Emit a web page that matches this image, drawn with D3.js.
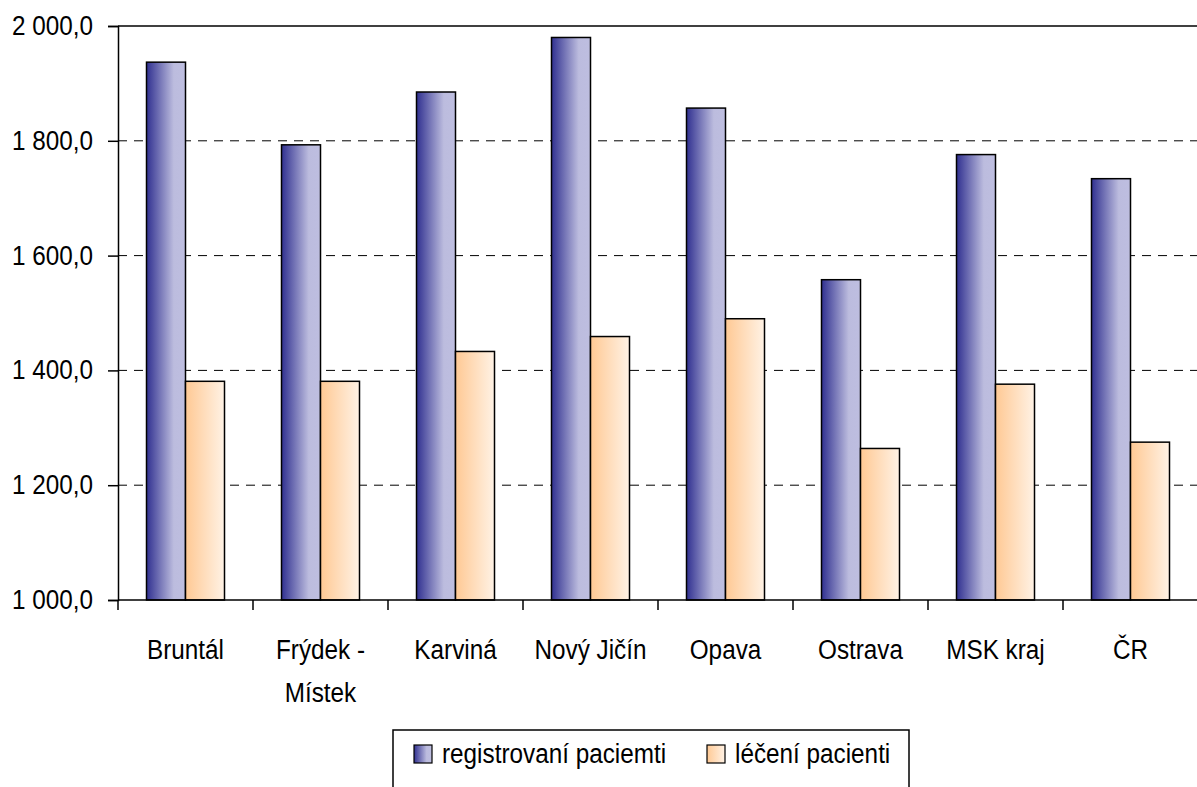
<!DOCTYPE html>
<html>
<head>
<meta charset="utf-8">
<script src="https://cdn.jsdelivr.net/npm/d3@7"></script>
<style>
  body { margin: 0; background: #fff; }
  svg { display: block; }
  text { font-family: "Liberation Sans", Arial, sans-serif; fill: #000; }
</style>
</head>
<body>
<div class="chart"></div>
<script>
(() => {
  const categories = ["Bruntál", "Frýdek - Místek", "Karviná", "Nový Jičín", "Opava", "Ostrava", "MSK kraj", "ČR"];
  const registered = [1937, 1793, 1885, 1980, 1857, 1558, 1776, 1734];
  const treated = [1381, 1381, 1433, 1459, 1490, 1264, 1376, 1275];
  const seriesNames = ["registrovaní paciemti", "léčení pacienti"];
  const yTicks = [1000, 1200, 1400, 1600, 1800, 2000];

  const width = 1197, height = 787;
  const left = 118, top = 26, bottom = 600, step = 135;
  const right = left + step * categories.length;
  const narrow = 0.9; // squeeze text to look like a narrow face
  const fontSize = "27px";

  const svg = d3.select(".chart").append("svg")
    .attr("width", width)
    .attr("height", height);

  const defs = svg.append("defs");
  const blue = defs.append("linearGradient").attr("id", "gBlue");
  blue.append("stop").attr("offset", "0%").attr("stop-color", "#303090");
  blue.append("stop").attr("offset", "70%").attr("stop-color", "#bcbcde");
  blue.append("stop").attr("offset", "100%").attr("stop-color", "#bebee0");
  const orange = defs.append("linearGradient").attr("id", "gOrange");
  orange.append("stop").attr("offset", "0%").attr("stop-color", "#ffc994");
  orange.append("stop").attr("offset", "100%").attr("stop-color", "#fff2e5");
  const fills = ["url(#gBlue)", "url(#gOrange)"];

  const x0 = d3.scaleBand().domain(categories).range([left, right]);
  const x1 = d3.scaleBand().domain(seriesNames).range([28.5, 28.5 + 78]);
  const y = d3.scaleLinear().domain([1000, 2000]).range([bottom, top]);

  const fmt = (v) => d3.format(",.1f")(v).replace(",", " ").replace(".", ",");

  function addText(g, x, yy, str, anchor) {
    return g.append("text")
      .attr("transform", `translate(${x},${yy}) scale(${narrow},1)`)
      .attr("text-anchor", anchor || "start")
      .style("font-size", fontSize)
      .text(str);
  }

  // gridlines
  svg.append("g").selectAll("line")
    .data(yTicks.filter((t) => t > 1000 && t < 2000))
    .enter().append("line")
    .attr("x1", left).attr("x2", right)
    .attr("y1", (d) => y(d)).attr("y2", (d) => y(d))
    .attr("stroke", "#000").attr("stroke-width", 1)
    .attr("stroke-dasharray", "9,7");

  svg.append("line")
    .attr("x1", left).attr("x2", right)
    .attr("y1", y(2000)).attr("y2", y(2000))
    .attr("stroke", "#000").attr("stroke-width", 1.5);

  // bars
  const values = categories.map((c, i) => [registered[i], treated[i]]);
  svg.append("g").selectAll("g")
    .data(values)
    .enter().append("g")
    .attr("transform", (d, i) => `translate(${x0(categories[i])},0)`)
    .selectAll("rect")
    .data((d) => d)
    .enter().append("rect")
    .attr("x", (d, j) => x1(seriesNames[j]))
    .attr("y", (d) => y(d))
    .attr("width", x1.bandwidth())
    .attr("height", (d) => y(1000) - y(d))
    .attr("fill", (d, j) => fills[j])
    .attr("stroke", "#000")
    .attr("stroke-width", 1.5);

  // y axis
  const yAxis = svg.append("g")
    .attr("transform", `translate(${left},0)`)
    .call(d3.axisLeft(y).tickValues(yTicks).tickSize(10).tickFormat(""));
  yAxis.select(".domain").attr("stroke-width", 1.5);
  yAxis.selectAll(".tick line").attr("stroke-width", 1.5);
  const yLabels = svg.append("g");
  yTicks.forEach((t) => addText(yLabels, 93, y(t) + 9, fmt(t), "end"));

  // x axis
  svg.append("line")
    .attr("x1", left).attr("x2", right)
    .attr("y1", bottom).attr("y2", bottom)
    .attr("stroke", "#000").attr("stroke-width", 1.5);
  svg.append("g").selectAll("line")
    .data(d3.range(categories.length + 1))
    .enter().append("line")
    .attr("x1", (i) => left + i * x0.step()).attr("x2", (i) => left + i * x0.step())
    .attr("y1", bottom).attr("y2", bottom + 10)
    .attr("stroke", "#000").attr("stroke-width", 1.5);

  const xLabels = svg.append("g");
  categories.forEach((d) => {
    const cx = x0(d) + x0.bandwidth() / 2;
    const parts = d === "Frýdek - Místek" ? ["Frýdek -", "Místek"] : [d];
    parts.forEach((p, k) => addText(xLabels, cx, 659 + k * 43, p, "middle"));
  });

  // legend
  const legend = svg.append("g");
  legend.append("rect")
    .attr("x", 393).attr("y", 730)
    .attr("width", 516).attr("height", 90)
    .attr("fill", "#fff").attr("stroke", "#000").attr("stroke-width", 1.5);
  const legendX = [414, 707];
  seriesNames.forEach((s, j) => {
    legend.append("rect")
      .attr("x", legendX[j]).attr("y", 745)
      .attr("width", 18).attr("height", 18)
      .attr("fill", fills[j]).attr("stroke", "#000").attr("stroke-width", 1.2);
    addText(legend, legendX[j] + 28, 763, s, "start");
  });
})();
</script>
</body>
</html>
